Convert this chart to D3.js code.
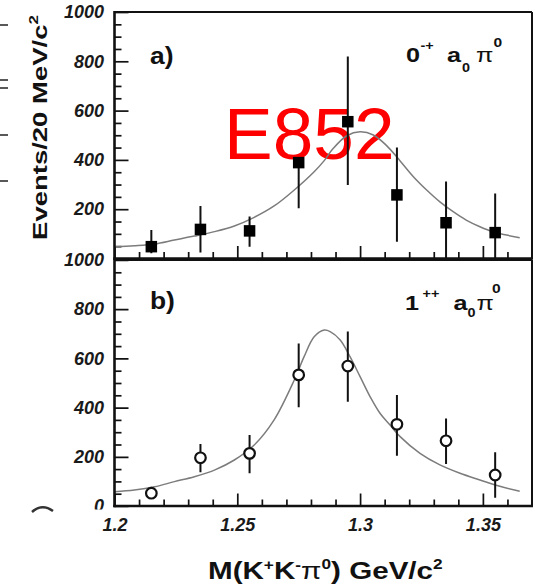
<!DOCTYPE html>
<html>
<head>
<meta charset="utf-8">
<script src="https://d3js.org/d3.v7.min.js"></script>
<style>
  html, body { margin: 0; padding: 0; background: #fff; }
  svg { display: block; font-family: "Liberation Sans", Arial, Helvetica, sans-serif; }
</style>
</head>
<body>
<svg id="chart" width="535" height="584"></svg>
<script>
// ---- data: K+K-pi0 mass spectra, 20 MeV bins ----
const massBins = [1.215, 1.235, 1.255, 1.275, 1.295, 1.315, 1.335, 1.355];

// a) 0-+ a0 pi0 wave
const eventsA   = [48, 118, 112, 389, 555, 258, 145, 105];
const errLowA   = [27, 94, 64, 185, 257, 190, 145, 105];
const errHighA  = [68, 95, 58, 0, 264, 192, 167, 159];

// b) 1++ a0 pi0 wave
const eventsB   = [52, 196, 214, 533, 569, 332, 265, 126];
const errLowB   = [15, 59, 81, 132, 145, 128, 94, 92];
const errHighB  = [15, 56, 75, 128, 140, 119, 91, 92];

// fitted line shapes, sampled along the mass axis
const fitMassA = [1.2, 1.2081, 1.2163, 1.2244, 1.2325, 1.2407, 1.2488, 1.2569, 1.265, 1.2732,
                  1.2813, 1.2854, 1.2891, 1.2946, 1.3, 1.3054, 1.3108, 1.3163, 1.3217, 1.3271,
                  1.3325, 1.3379, 1.3432, 1.3488, 1.3542, 1.3596, 1.365];
const fitA     = [48, 52, 59, 75, 91, 109, 132, 167, 213, 278,
                  352, 397, 447, 498, 514, 501, 458, 396, 332, 278,
                  230, 190, 156, 129, 108, 95, 84];

const fitMassB = [1.2, 1.2081, 1.2163, 1.2244, 1.2325, 1.2407, 1.2488, 1.2569, 1.265, 1.2732,
                  1.2772, 1.2813, 1.2854, 1.2878, 1.2919, 1.2959, 1.3, 1.3041, 1.3081, 1.3122,
                  1.3163, 1.3244, 1.3325, 1.3407, 1.3488, 1.3569, 1.365];
const fitB     = [58, 65, 78, 99, 119, 146, 187, 248, 350, 512,
                  607, 688, 715, 709, 675, 607, 526, 444, 377, 329,
                  282, 214, 167, 133, 106, 80, 60];

// axis ticks
const yMajorTicks  = [0, 200, 400, 600, 800, 1000];
const xMajorTicks  = [1.2, 1.25, 1.3, 1.35];
const xTickLabels  = ["1.2", "1.25", "1.3", "1.35"];

// ---- layout ----
const svg = d3.select("#chart");
const X0 = 114.5, X1 = 532;
const x = d3.scaleLinear().domain([1.2, 1.37]).range([X0, X1]);

const yMinorTicks = d3.range(0, 1001, 50).filter(v => v % 200 !== 0);
const xMinorTicks = d3.range(120, 137).map(v => v / 100).filter(v => Math.round(v * 100) % 5 !== 0);

const panels = [
  {
    id: "a", top: 12, bottom: 258.5,
    events: eventsA, lo: errLowA, hi: errHighA,
    fitX: fitMassA, fitY: fitA, marker: "square",
    tag: "a)", tagBase: 64, showZero: false, showX: false
  },
  {
    id: "b", top: 260, bottom: 506,
    events: eventsB, lo: errLowB, hi: errHighB,
    fitX: fitMassB, fitY: fitB, marker: "circle",
    tag: "b)", tagBase: 309, showZero: true, showX: true
  }
];

const defs = svg.append("defs");
// the lower panel's tick labels stop at the page edge (the "0" is cut); axis group is shifted by X0
defs.append("clipPath").attr("id", "clip-labels-b")
  .append("rect").attr("x", -X0).attr("y", 0).attr("width", 535).attr("height", 509.5);

panels.forEach(p => {
  const y = d3.scaleLinear().domain([0, 1000]).range([p.bottom, p.top]);
  const g = svg.append("g").attr("class", "panel-" + p.id);

  defs.append("clipPath").attr("id", "plot-" + p.id)
    .append("rect").attr("x", X0).attr("y", p.top)
    .attr("width", X1 - X0).attr("height", p.bottom - p.top);

  // y axis: majors with labels, minors without
  const yMajor = g.append("g").attr("transform", `translate(${X0},0)`)
    .call(d3.axisLeft(y).tickValues(yMajorTicks).tickSize(-14).tickPadding(10.5)
      .tickFormat(v => (v === 0 && !p.showZero) ? "" : String(v)));
  if (p.id === "b") yMajor.attr("clip-path", "url(#clip-labels-b)");
  g.append("g").attr("class", "minor").attr("transform", `translate(${X0},0)`)
    .call(d3.axisLeft(y).tickValues(yMinorTicks).tickSize(-7).tickFormat(""));

  // x axis: majors and minors, labels only below the lower panel
  const xMajor = g.append("g").attr("transform", `translate(0,${p.bottom})`)
    .call(d3.axisBottom(x).tickValues(xMajorTicks).tickSize(-12.5).tickPadding(12)
      .tickFormat((v, i) => p.showX ? xTickLabels[i] : ""));
  g.append("g").attr("class", "minor").attr("transform", `translate(0,${p.bottom})`)
    .call(d3.axisBottom(x).tickValues(xMinorTicks).tickSize(-6.5).tickFormat(""));

  g.selectAll(".domain").remove();
  g.selectAll(".tick line").attr("stroke", "#111").attr("stroke-width", 1.7);
  g.selectAll(".tick text")
    .attr("font-family", "'Liberation Sans', Arial, sans-serif")
    .attr("font-size", 18).attr("font-weight", "bold").attr("font-style", "italic")
    .attr("fill", "#1a1a1a");
  xMajor.selectAll(".tick text").attr("dy", null).attr("y", 0)
    .attr("transform", `translate(0,${530.5 - p.bottom})`);

  // experiment tag behind the data of the upper panel
  if (p.id === "a") {
    g.append("text").attr("x", 224).attr("y", 158.5)
      .attr("font-size", 73).attr("fill", "#ff0000")
      .text("E852");
  }

  const plot = g.append("g").attr("clip-path", `url(#plot-${p.id})`);

  // fitted curve
  const line = d3.line()
    .x((d, i) => x(p.fitX[i]))
    .y(d => y(d))
    .curve(d3.curveCatmullRom.alpha(0.5));
  plot.append("path").datum(p.fitY)
    .attr("d", line).attr("fill", "none")
    .attr("stroke", "#7c7c7c").attr("stroke-width", 1.5);

  // error bars
  plot.selectAll("line.err").data(p.events).join("line")
    .attr("class", "err")
    .attr("x1", (d, i) => x(massBins[i])).attr("x2", (d, i) => x(massBins[i]))
    .attr("y1", (d, i) => y(Math.max(0, d - p.lo[i])))
    .attr("y2", (d, i) => y(Math.min(1000, d + p.hi[i])))
    .attr("stroke", "#111").attr("stroke-width", 2);

  // markers
  if (p.marker === "square") {
    const s = 11.5;
    plot.selectAll("rect.pt").data(p.events).join("rect")
      .attr("class", "pt")
      .attr("x", (d, i) => x(massBins[i]) - s / 2).attr("y", d => y(d) - s / 2)
      .attr("width", s).attr("height", s).attr("fill", "#000");
  } else {
    plot.selectAll("circle.pt").data(p.events).join("circle")
      .attr("class", "pt")
      .attr("cx", (d, i) => x(massBins[i])).attr("cy", d => y(d))
      .attr("r", 5.3).attr("fill", "#fff")
      .attr("stroke", "#111").attr("stroke-width", 2.2);
  }

  // frame
  const frame = g.append("g").attr("stroke", "#111").attr("fill", "none");
  frame.append("line").attr("x1", X0).attr("x2", X1).attr("y1", p.top).attr("y2", p.top).attr("stroke-width", 2);
  frame.append("line").attr("x1", X1).attr("x2", X1).attr("y1", p.top).attr("y2", p.bottom).attr("stroke-width", 2);
  frame.append("line").attr("x1", X0).attr("x2", X0).attr("y1", p.top - 1).attr("y2", p.bottom + 1.2).attr("stroke-width", 2.6);
  frame.append("line").attr("x1", X0 - 1.2).attr("x2", X1 + 1).attr("y1", p.bottom).attr("y2", p.bottom).attr("stroke-width", 2.6);

  // panel tag
  g.append("text").attr("x", 150).attr("y", p.tagBase)
    .attr("font-size", 24).attr("font-weight", "bold").attr("fill", "#111")
    .attr("transform", `translate(150,0) scale(1.1,1) translate(-150,0)`)
    .text(p.tag);
});

// wave labels, one glyph group per piece, slightly widened
function waveLabel(base, parts) {
  const g = svg.append("g").attr("fill", "#111");
  parts.forEach(q => {
    g.append("text")
      .attr("x", q.x).attr("y", base + q.b)
      .attr("font-size", q.s)
      .attr("font-weight", q.w || "bold")
      .attr("transform", `translate(${q.x},0) scale(1.2,1) translate(${-q.x},0)`)
      .text(q.t);
  });
  return g;
}
waveLabel(62, [
  { t: "0", x: 406, b: 0, s: 21 },
  { t: "-+", x: 420.5, b: -12, s: 12 },
  { t: "a", x: 447, b: 0, s: 21 },
  { t: "0", x: 462, b: 10, s: 12 },
  { t: "π", x: 476, b: 0, s: 21, w: "normal" },
  { t: "0", x: 493.5, b: -15, s: 13 }
]);
waveLabel(310, [
  { t: "1", x: 405, b: 0, s: 21 },
  { t: "++", x: 422.5, b: -12, s: 12 },
  { t: "a", x: 453.5, b: 0, s: 21 },
  { t: "0", x: 467.5, b: 7, s: 12 },
  { t: "π", x: 476.5, b: 0, s: 21, w: "normal" },
  { t: "0", x: 492, b: -17, s: 13 }
]);

// stretch a text element horizontally to a given width about an anchor
function fitWidth(sel, anchorX, width) {
  const bw = sel.node().getBBox().width;
  const s = width / bw;
  sel.attr("transform", `translate(${anchorX},0) scale(${s},1) translate(${-anchorX},0)`);
}

// x axis title
const xTitle = svg.append("text").attr("x", 208).attr("y", 579.5)
  .attr("font-size", 24).attr("font-weight", "bold").attr("fill", "#111");
xTitle.append("tspan").text("M(K");
xTitle.append("tspan").attr("dy", -9).attr("font-size", 14).text("+");
xTitle.append("tspan").attr("dy", 9).text("K");
xTitle.append("tspan").attr("dy", -9).attr("font-size", 14).text("-");
xTitle.append("tspan").attr("dy", 9).attr("font-weight", "normal").text("π");
xTitle.append("tspan").attr("dy", -10).attr("font-size", 14).text("0");
xTitle.append("tspan").attr("dy", 10).text(") GeV/c");
xTitle.append("tspan").attr("dy", -10).attr("font-size", 14).text("2");
fitWidth(xTitle, 208, 235);

// y axis title (rotated)
const yTitleG = svg.append("g").attr("transform", "translate(46.5,127.5) rotate(-90)");
const yTitle = yTitleG.append("text").attr("x", 0).attr("y", 0)
  .attr("text-anchor", "middle")
  .attr("font-size", 21).attr("font-weight", "bold").attr("fill", "#111");
yTitle.append("tspan").text("Events/20 MeV/c");
yTitle.append("tspan").attr("dy", -9).attr("font-size", 13).text("2");
fitWidth(yTitle, 0, 225);

// short rules along the left page margin
const marginRules = [25, 80, 88, 135, 181];
svg.append("g").selectAll("line").data(marginRules).join("line")
  .attr("x1", 0).attr("x2", 8).attr("y1", d => d).attr("y2", d => d)
  .attr("stroke", "#222").attr("stroke-width", 1.5);
svg.append("path").attr("d", "M32,512 Q42,503 53,511")
  .attr("fill", "none").attr("stroke", "#333").attr("stroke-width", 2.5);
</script>
</body>
</html>
